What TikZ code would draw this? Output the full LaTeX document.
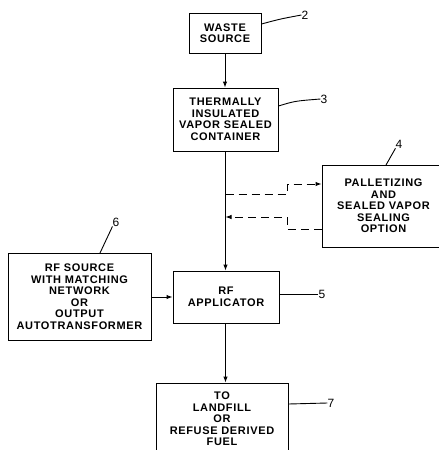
\documentclass[tikz,border=0pt]{standalone}
\usepackage{fontspec}
\setmainfont{Liberation Sans}
\newfontfamily\boxfont[LetterSpace=6]{Liberation Sans}
\usetikzlibrary{arrows.meta}
\tikzset{
  blk/.style={draw, line width=1pt, rectangle, inner sep=0pt, align=center,
    font=\boxfont\bfseries\fontsize{11}{11.5}\selectfont},
  flow/.style={line width=1pt, -{Latex[length=6pt,width=4.5pt]}},
  dflow/.style={line width=1pt, dash pattern=on 8pt off 5pt, -{Latex[length=6pt,width=4.5pt]}},
  leader/.style={line width=0.9pt},
  num/.style={font=\fontsize{12}{12}\selectfont, inner sep=0pt}
}
\begin{document}
\begin{tikzpicture}[x=1pt,y=-1pt]
\useasboundingbox (0,0) rectangle (439,450);
\clip (0,0) rectangle (439,450);
\node[blk, minimum width=72, minimum height=40] (waste) at (225,33) {WASTE\\SOURCE};
\node[blk, minimum width=105, minimum height=63] (cont) at (225.5,119.5) {THERMALLY\\INSULATED\\VAPOR SEALED\\CONTAINER};
\node[blk, minimum width=123, minimum height=82] (pal) at (383.5,206) {PALLETIZING\\AND\\SEALED VAPOR\\SEALING\\OPTION};
\node[blk, minimum width=143, minimum height=87] (rf) at (79.5,296.5) {RF SOURCE\\WITH MATCHING\\NETWORK\\OR\\OUTPUT\\AUTOTRANSFORMER};
\node[blk, minimum width=106, minimum height=52] (app) at (226,297) {RF\\APPLICATOR};
\node[blk, minimum width=132, minimum height=72] (fill) at (222,419) {TO\\LANDFILL\\OR\\REFUSE DERIVED\\FUEL};

% main flow
\draw[flow] (waste.south) -- (waste.south |- cont.north);
\draw[flow] (cont.south) -- (cont.south |- app.north);
\draw[flow] (app.south -| cont.south) -- (cont.south |- fill.north);
\draw[flow] (rf.east |- app.west) -- (app.west);

% dashed loop
\coordinate (a1) at (225.5,194);
\coordinate (a2) at (287,194);
\coordinate (a3) at (287,184);
\coordinate (b1) at (287,229);
\coordinate (b2) at (287,217);
\coordinate (b3) at (225.5,217);
\draw[dflow] (a1) -- (a2) -- (a3) -- (pal.west |- a3);
\draw[dflow] (pal.west |- b1) -- (b1) -- (b2) -- (b3);

% labels
\node[num] (n2) at (305,15) {2};
\node[num] (n3) at (324,99) {3};
\node[num] (n4) at (399,144) {4};
\node[num] (n5) at (322,294) {5};
\node[num] (n6) at (116,222) {6};
\node[num] (n7) at (331,403) {7};
\draw[leader] (waste.east |- 0,24) .. controls (280,19) .. (n2.west);
\draw[leader] (cont.east |- 0,106) .. controls (295,101) .. (n3.west);
\draw[leader] (386,165) -- (n4.south west);
\draw[leader] (app.east |- 0,294) -- (n5.west);
\draw[leader] (100,253) -- (n6.south west);
\draw[leader] (fill.east |- 0,404) -- (n7.west);
\end{tikzpicture}
\end{document}
